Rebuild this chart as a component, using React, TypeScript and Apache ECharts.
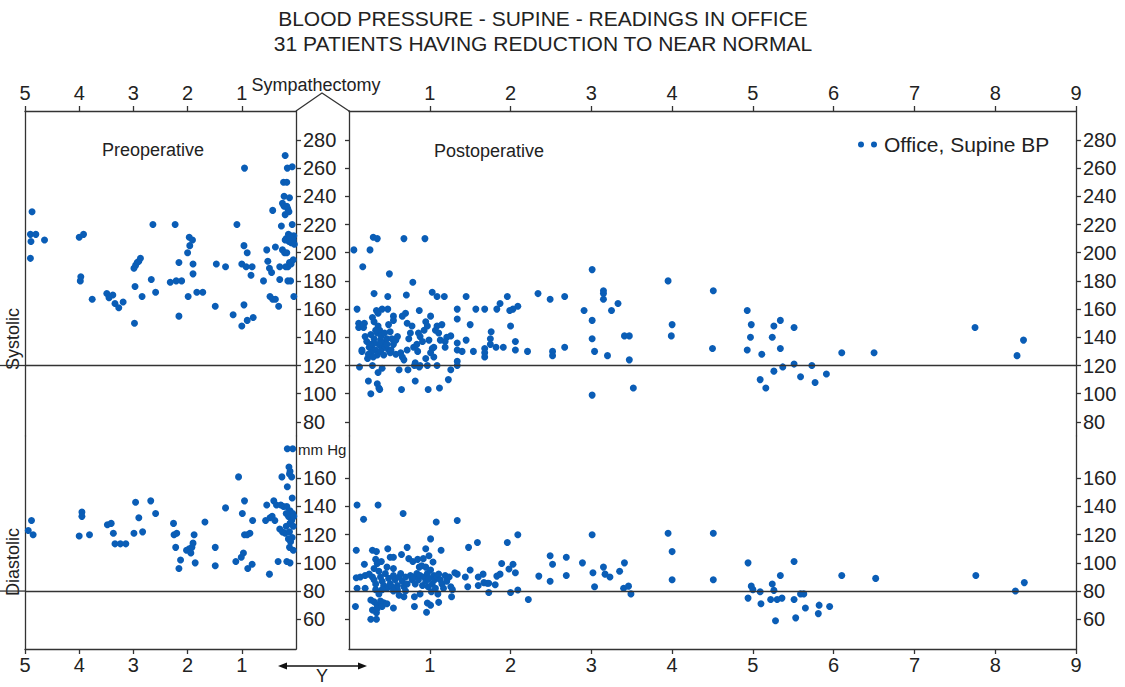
import React, { useEffect, useRef } from "react";
import * as echarts from "echarts";

const FONT = "'Liberation Sans', Arial, Helvetica, sans-serif";
const titleLine1 = "BLOOD PRESSURE - SUPINE - READINGS IN OFFICE";
const titleLine2 = "31 PATIENTS HAVING REDUCTION TO NEAR NORMAL";
const seriesName = "Office, Supine BP";
const preTicks = [1, 2, 3, 4, 5];
const postTicks = [1, 2, 3, 4, 5, 6, 7, 8, 9];
const systolicTicks = [80, 100, 120, 140, 160, 180, 200, 220, 240, 260, 280];
const diastolicTicks = [60, 80, 100, 120, 140, 160];
const systolicNormal = 120;
const diastolicNormal = 80;

// [years before sympathectomy, mm Hg]
const preopSystolic = [
  [4.87, 229], [4.9, 213], [4.8, 213], [4.89, 208], [4.64, 209], [4.9, 196],
  [4.0, 211], [3.92, 213], [3.98, 180], [3.97, 183], [3.76, 167],
  [3.49, 171], [3.38, 170], [3.45, 168], [3.34, 164], [3.27, 161], [3.19, 165],
  [2.98, 150], [2.97, 176], [2.84, 169], [2.99, 189], [2.96, 191], [2.93, 193], [2.9, 194], [2.87, 196],
  [2.67, 181], [2.64, 220], [2.59, 172], [2.23, 220], [2.32, 179], [2.21, 180], [2.11, 180], [2.16, 193], [2.16, 155],
  [1.99, 169], [2.0, 200], [1.96, 205], [1.97, 211], [1.91, 209], [1.9, 192], [1.9, 185], [1.83, 172], [1.72, 172],
  [1.49, 162], [1.47, 192], [1.3, 190], [1.16, 156], [1.09, 220], [0.95, 260], [1.0, 192], [0.92, 190], [0.81, 190],
  [0.96, 205], [0.9, 200], [0.83, 184], [0.96, 163], [1.0, 148], [0.9, 152], [0.79, 154],
  [0.6, 180], [0.54, 202], [0.52, 194], [0.49, 189], [0.45, 186], [0.48, 169], [0.43, 167], [0.38, 167], [0.32, 162],
  [0.43, 230], [0.38, 204], [0.3, 181], [0.3, 190], [0.27, 219], [0.25, 202], [0.21, 200], [0.17, 200],
  [0.2, 269], [0.25, 235], [0.22, 233], [0.17, 233], [0.23, 250], [0.17, 250], [0.22, 240], [0.12, 239], [0.16, 260], [0.07, 261],
  [0.2, 227], [0.13, 229], [0.15, 231], [0.07, 220],
  [0.18, 210], [0.14, 213], [0.1, 212], [0.08, 210], [0.04, 212], [0.13, 208], [0.09, 207], [0.05, 209], [0.2, 209], [0.03, 206], [0.11, 211],
  [0.15, 190], [0.19, 190], [0.15, 180], [0.12, 193], [0.09, 192], [0.05, 195], [0.04, 169], [0.1, 180],
];

const preopDiastolic = [
  [4.88, 130], [4.94, 123], [4.85, 120], [3.95, 136], [3.95, 133], [4.0, 119], [3.81, 120],
  [3.48, 127], [3.41, 128], [3.37, 121], [3.34, 113.5], [3.24, 113.5], [3.14, 113.5],
  [2.96, 143], [2.99, 121], [2.9, 132], [2.83, 122], [2.68, 144], [2.59, 135],
  [2.26, 128], [2.25, 120], [2.2, 121], [2.22, 111], [2.13, 102], [2.16, 96],
  [2.02, 109], [1.97, 110], [1.92, 111], [1.9, 114], [1.94, 107], [1.88, 120], [1.86, 100],
  [1.68, 129], [1.49, 111], [1.49, 98], [1.3, 139], [1.11, 101], [1.06, 161], [0.95, 144], [0.99, 135],
  [1.01, 104], [0.97, 107], [0.95, 120], [0.9, 120], [0.85, 121], [0.89, 96], [0.81, 99], [0.8, 130],
  [0.54, 141], [0.49, 92], [0.56, 130], [0.48, 132], [0.44, 133], [0.39, 130], [0.41, 144], [0.36, 141],
  [0.33, 101], [0.3, 124], [0.25, 122], [0.2, 121], [0.26, 161], [0.08, 161],
  [0.16, 154], [0.13, 168], [0.11, 165], [0.12, 163], [0.16, 181], [0.06, 181],
  [0.17, 101], [0.11, 100], [0.12, 111], [0.05, 109], [0.07, 146],
  [0.17, 140], [0.11, 137], [0.06, 135], [0.14, 133], [0.08, 130], [0.04, 133], [0.18, 135], [0.11, 128],
  [0.05, 126], [0.12, 122], [0.07, 118], [0.14, 117], [0.1, 115], [0.23, 140], [0.28, 141], [0.18, 126],
];

// [years after sympathectomy, mm Hg]
const postopSystolic = [
  [0.06, 202], [0.26, 202], [0.3, 211], [0.35, 210], [0.68, 210], [0.94, 210],
  [0.17, 190], [0.5, 185], [0.79, 179], [0.31, 171], [0.48, 169], [0.71, 170],
  [1.03, 172], [1.09, 169], [1.18, 169], [1.45, 169], [1.96, 169], [2.34, 171], [2.49, 167], [2.67, 169],
  [3.01, 188], [3.15, 173], [3.15, 171], [3.15, 167], [3.33, 164], [2.91, 159], [3.25, 159], [3.01, 152],
  [3.01, 139], [3.04, 130], [3.2, 127], [3.41, 141], [3.47, 141], [3.47, 124], [3.01, 99], [3.52, 104],
  [2.67, 133], [2.52, 130], [2.52, 127], [2.21, 130], [2.06, 131], [2.06, 137], [2.0, 148], [2.09, 162],
  [2.03, 160], [1.99, 159], [1.87, 164], [1.83, 160], [1.76, 144], [1.75, 139], [1.75, 135], [1.82, 133],
  [1.91, 133], [1.68, 132], [1.68, 129], [1.68, 126], [1.54, 130], [1.68, 160], [1.57, 160], [1.5, 149],
  [1.45, 138], [1.34, 160], [1.34, 153], [1.34, 136], [1.34, 131], [1.34, 123], [1.34, 120], [1.4, 130],
  [1.26, 141], [1.21, 140], [1.19, 137],
  [1.26, 117], [1.23, 110], [1.12, 104], [0.98, 103], [0.65, 103], [0.82, 109], [0.73, 117], [0.62, 117],
  [0.27, 100], [0.24, 109], [0.35, 107], [0.37, 104], [0.38, 103], [0.13, 119], [0.29, 120], [0.41, 118],
  [0.36, 115], [0.81, 120], [0.87, 119], [0.97, 120], [1.09, 120],
  [0.1, 160], [0.12, 150], [0.19, 150], [0.12, 147], [0.18, 147], [0.16, 131], [0.16, 130], [0.23, 125],
  [0.29, 154], [0.31, 151], [0.34, 159], [0.36, 157], [0.41, 160], [0.48, 160],
  [0.2, 140.5], [0.27, 142], [0.31, 139], [0.35, 143], [0.39, 138], [0.43, 136], [0.25, 133], [0.29, 132],
  [0.33, 131], [0.37, 135], [0.41, 132], [0.45, 133], [0.49, 131], [0.51, 129], [0.27, 129], [0.35, 127.5],
  [0.47, 139], [0.53, 139], [0.22, 137], [0.31, 136], [0.39, 130], [0.43, 127.5], [0.55, 135], [0.36, 148],
  [0.38, 145], [0.49, 149], [0.51, 144], [0.55, 155], [0.55, 152],
  [0.24, 128], [0.3, 126], [0.4, 141], [0.44, 143], [0.33, 145], [0.47, 135], [0.52, 131], [0.58, 128],
  [0.58, 138], [0.26, 135],
  [0.6, 140.5], [0.64, 129], [0.66, 126], [0.68, 124], [0.72, 131], [0.74, 139], [0.76, 143], [0.78, 148],
  [0.72, 150], [0.7, 157], [0.66, 155], [0.8, 133], [0.84, 135], [0.86, 143], [0.88, 140.5], [0.91, 137],
  [0.93, 145], [0.95, 151], [0.97, 148], [1.01, 155], [0.99, 138], [1.03, 132], [1.05, 133], [1.07, 145],
  [1.09, 148], [1.11, 143], [1.13, 138], [1.15, 149], [1.19, 133], [1.01, 129], [1.05, 126], [0.95, 125],
  [0.87, 159], [0.85, 130], [0.82, 122], [0.88, 120],
  [3.95, 180], [4.0, 149], [3.99, 141], [4.51, 173], [4.5, 132], [4.93, 159], [4.98, 149], [4.97, 140],
  [4.93, 131], [5.11, 128], [5.09, 110], [5.16, 104], [5.26, 148], [5.34, 152], [5.24, 140], [5.34, 132],
  [5.26, 116], [5.37, 119], [5.51, 147], [5.51, 121], [5.59, 112], [5.73, 120], [5.77, 108], [5.91, 114],
  [6.1, 129], [6.5, 129], [7.75, 147], [8.27, 127], [8.35, 138],
];

const postopDiastolic = [
  [0.1, 141], [0.36, 141], [0.18, 131], [0.67, 135], [1.08, 129], [1.34, 130], [1.01, 117], [2.09, 120], [3.01, 120],
  [0.09, 109], [0.29, 109], [0.34, 108], [0.48, 110], [0.72, 111], [0.95, 110], [1.14, 109], [1.48, 111],
  [1.59, 114.5], [1.96, 114.5],
  [0.19, 99], [0.33, 102.5], [0.35, 99.6], [0.4, 101], [0.51, 104], [0.55, 104], [0.65, 106], [0.74, 103],
  [0.79, 101], [0.85, 102.5], [0.92, 103], [0.99, 105], [1.04, 100.6], [0.87, 97], [0.9, 98], [0.95, 97],
  [1.31, 93], [1.34, 92], [1.44, 90], [1.47, 83], [1.5, 95], [1.6, 90], [1.6, 84], [1.66, 92], [1.67, 86],
  [1.71, 85.5], [1.73, 79], [1.73, 85.5], [1.81, 84.5], [1.83, 90.6], [1.87, 92], [1.89, 99.6], [1.98, 95.6],
  [2.03, 99], [2.06, 93], [2.0, 79], [2.09, 80.7], [2.22, 74], [2.35, 90.6], [2.49, 105], [2.52, 99],
  [2.49, 87], [2.69, 104], [2.69, 91], [2.89, 100], [3.02, 93], [3.04, 83], [3.15, 97], [3.17, 92],
  [3.23, 90], [3.35, 94], [3.41, 100], [3.4, 82], [3.46, 83.5], [3.49, 78],
  [0.08, 69], [0.27, 60], [0.34, 60], [0.55, 68], [0.81, 69], [0.96, 65], [1.01, 70], [1.11, 72], [0.81, 76],
  [0.97, 71.5], [1.27, 76], [0.27, 73.6], [0.31, 72.4], [0.35, 70], [0.39, 73], [0.43, 71.7], [0.34, 64.6],
  [0.35, 67.7], [0.29, 66.5], [0.41, 69], [0.47, 71], [0.62, 77], [0.68, 76], [0.6, 80.7],
  [0.1, 82], [0.09, 89.5], [0.2, 82], [0.2, 91], [0.14, 90], [0.25, 92], [0.29, 90], [0.31, 88], [0.33, 85],
  [0.37, 94], [0.39, 90], [0.41, 87], [0.43, 84], [0.45, 92.5], [0.47, 82], [0.49, 89], [0.51, 85], [0.53, 83],
  [0.55, 91], [0.57, 88], [0.6, 84], [0.62, 90], [0.64, 92.5], [0.66, 87], [0.68, 83], [0.7, 90], [0.72, 85],
  [0.76, 91], [0.78, 88], [0.8, 90], [0.82, 85], [0.84, 92.5], [0.86, 88], [0.88, 91], [0.91, 84], [0.93, 90],
  [0.95, 87], [0.97, 92.5], [0.98, 83], [0.99, 89], [1.01, 95], [1.02, 79.5], [1.03, 85], [1.05, 91],
  [1.06, 88], [1.07, 82], [1.09, 90], [1.1, 78], [1.11, 92], [1.13, 88], [1.15, 85], [1.17, 82], [1.19, 91],
  [1.21, 87], [1.24, 90], [1.26, 83], [1.28, 81], [0.33, 81], [0.37, 78], [0.41, 81], [0.55, 80], [0.7, 80],
  [0.88, 78], [0.31, 96], [0.47, 97], [0.55, 96],
  [3.95, 121], [4.0, 108], [4.0, 88], [4.51, 121], [4.51, 88], [4.94, 100], [5.51, 101], [5.34, 91],
  [4.98, 83.5], [5.0, 81], [5.09, 79.5], [5.24, 85], [5.26, 80.5], [4.94, 75], [5.1, 71], [5.22, 74],
  [5.3, 74], [5.36, 75], [5.28, 59], [5.51, 74], [5.53, 61], [5.59, 78], [5.63, 78], [5.65, 68], [5.81, 64],
  [5.82, 70], [5.95, 69], [6.1, 91], [6.52, 89], [7.76, 91], [8.25, 80], [8.36, 86],
];

// layout
const L_LEFT = 25;
const L_RIGHT = 296;
const R_LEFT = 349;
const R_RIGHT = 1076;
const TOP = 111;
const SPLIT = 436;
const BOTTOM = 649;
const SYS_MIN = 70;
const SYS_MAX = 300.5;
const DIA_MIN = 38.9;
const DIA_MAX = 190;

const INK = "#222";
const AXIS = "#333";
const DOT = "#0a5db6";

export default function App() {
  const ref = useRef<HTMLDivElement>(null);

  useEffect(() => {
    if (!ref.current) return;
    const chart = echarts.init(ref.current, null, { renderer: "svg" });
    const line = { color: AXIS, width: 1.3 };
    const label = { color: INK, fontSize: 20, fontFamily: FONT };

    const xAx = (gridIndex: number, position: string, max: number, ticks: number[], inverse: boolean, margin: number) => ({
      type: "value",
      gridIndex,
      position,
      inverse,
      min: 0,
      max,
      axisLine: { show: true, onZero: false, lineStyle: line },
      axisTick: { show: true, inside: false, length: 5, customValues: ticks, lineStyle: line },
      axisLabel: { show: true, customValues: ticks, margin, ...label },
      splitLine: { show: false },
    });

    const yAx = (gridIndex: number, position: string, min: number, max: number, ticks: number[] | null, showLabels: boolean, tickLen: number) => ({
      type: "value",
      gridIndex,
      position,
      min,
      max,
      axisLine: { show: true, onZero: false, lineStyle: line },
      axisTick: ticks
        ? { show: true, inside: false, length: tickLen, customValues: ticks, lineStyle: line }
        : { show: false },
      axisLabel: showLabels && ticks ? { show: true, customValues: ticks, margin: 7, ...label } : { show: false },
      splitLine: { show: false },
    });

    const ml = (v: number) => ({
      silent: true,
      symbol: ["none", "none"],
      label: { show: false },
      lineStyle: { color: AXIS, width: 1.3, type: "solid" },
      data: [{ yAxis: v }],
    });

    const scatter = (data: number[][], xi: number, yi: number, refValue: number) => ({
      name: seriesName,
      type: "scatter",
      xAxisIndex: xi,
      yAxisIndex: yi,
      data,
      symbol: "circle",
      symbolSize: 7,
      itemStyle: { color: DOT, opacity: 1 },
      markLine: ml(refValue),
    });

    const option: any = {
      animation: false,
      backgroundColor: "#fff",
      textStyle: { fontFamily: FONT },
      grid: [
        { left: L_LEFT, width: L_RIGHT - L_LEFT, top: TOP, height: SPLIT - TOP },
        { left: L_LEFT, width: L_RIGHT - L_LEFT, top: SPLIT, height: BOTTOM - SPLIT },
        { left: R_LEFT, width: R_RIGHT - R_LEFT, top: TOP, height: SPLIT - TOP },
        { left: R_LEFT, width: R_RIGHT - R_LEFT, top: SPLIT, height: BOTTOM - SPLIT },
      ],
      xAxis: [
        xAx(0, "top", 5, preTicks, true, 8),
        xAx(1, "bottom", 5, preTicks, true, 6),
        xAx(2, "top", 9, postTicks, false, 8),
        xAx(3, "bottom", 9, postTicks, false, 6),
      ],
      yAxis: [
        yAx(0, "right", SYS_MIN, SYS_MAX, systolicTicks, true, 5),
        yAx(0, "left", SYS_MIN, SYS_MAX, null, false, 0),
        yAx(1, "right", DIA_MIN, DIA_MAX, diastolicTicks, true, 5),
        yAx(1, "left", DIA_MIN, DIA_MAX, null, false, 0),
        yAx(2, "left", SYS_MIN, SYS_MAX, systolicTicks, false, 4),
        yAx(2, "right", SYS_MIN, SYS_MAX, systolicTicks, true, 5),
        yAx(3, "left", DIA_MIN, DIA_MAX, diastolicTicks, false, 4),
        yAx(3, "right", DIA_MIN, DIA_MAX, diastolicTicks, true, 5),
      ],
      legend: {
        data: [seriesName],
        left: 858,
        top: 134,
        padding: 0,
        selectedMode: false,
        itemWidth: 19,
        itemHeight: 6,
        icon: "path://M3,0A3,3,0,1,1,3,6A3,3,0,1,1,3,0ZM16,0A3,3,0,1,1,16,6A3,3,0,1,1,16,0Z",
        textStyle: { color: INK, fontSize: 21, fontFamily: FONT, padding: [0, 0, 0, 2] },
      },
      series: [
        scatter(preopSystolic, 0, 0, systolicNormal),
        scatter(preopDiastolic, 1, 2, diastolicNormal),
        scatter(postopSystolic, 2, 5, systolicNormal),
        scatter(postopDiastolic, 3, 7, diastolicNormal),
      ],
    };
    chart.setOption(option);

    const ySys = chart.convertToPixel({ yAxisIndex: 0 } as any, systolicNormal) as number;
    const yDia = chart.convertToPixel({ yAxisIndex: 2 } as any, diastolicNormal) as number;
    const txt = (text: string, x: number, y: number, fontSize: number, align = "center", rotation = 0) => ({
      type: "text",
      x,
      y,
      rotation,
      style: { text, fontSize, fontFamily: FONT, fill: INK, align, verticalAlign: "middle" },
    });

    chart.setOption({
      graphic: [
        txt(titleLine1, 543, 18, 21),
        txt(titleLine2, 543, 43, 21),
        txt("Preoperative", 153, 150, 18),
        txt("Postoperative", 489, 151, 18),
        txt("Sympathectomy", 316, 85, 18),
        txt("Systolic", 13, 339, 18, "center", Math.PI / 2),
        txt("Diastolic", 13, 562, 18, "center", Math.PI / 2),
        txt("mm Hg", 298, 449, 15, "left"),
        txt("Y", 322, 676, 18),
        {
          type: "polyline",
          shape: { points: [[L_RIGHT, TOP], [322, TOP - 18], [R_LEFT, TOP]] },
          style: { stroke: AXIS, lineWidth: 1.3, fill: null },
        },
        { type: "line", shape: { x1: 0, y1: ySys, x2: L_LEFT, y2: ySys }, style: { stroke: AXIS, lineWidth: 1.3 } },
        { type: "line", shape: { x1: 0, y1: yDia, x2: L_LEFT, y2: yDia }, style: { stroke: AXIS, lineWidth: 1.3 } },
        { type: "line", shape: { x1: 284, y1: 666, x2: 361, y2: 666 }, style: { stroke: "#111", lineWidth: 1.5 } },
        { type: "polygon", shape: { points: [[278, 666], [287, 662.5], [287, 669.5]] }, style: { fill: "#111" } },
        { type: "polygon", shape: { points: [[367, 666], [358, 662.5], [358, 669.5]] }, style: { fill: "#111" } },
      ],
    });

    return () => chart.dispose();
  }, []);

  return (
    <div
      ref={ref}
      style={{ position: "fixed", left: 0, top: 0, width: 1125, height: 687, background: "#fff" }}
    />
  );
}
